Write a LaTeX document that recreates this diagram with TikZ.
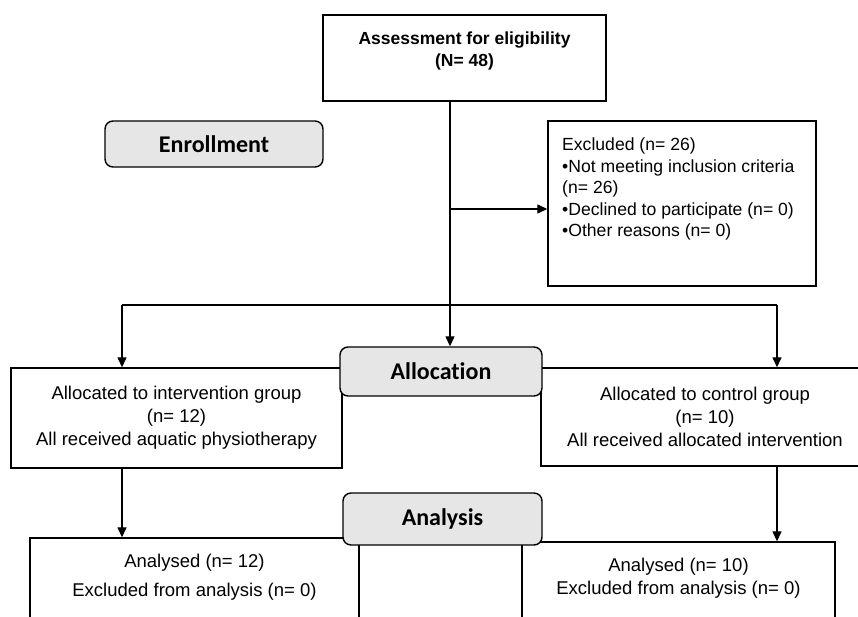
\documentclass[tikz,border=0pt]{standalone}
\usepackage{fontspec}
\setmainfont{Liberation Sans}
\newfontfamily\stagefont[Ligatures=NoCommon]{Carlito}
\usetikzlibrary{arrows.meta}
\definecolor{stageGray}{RGB}{230,230,230}

\begin{document}
\begin{tikzpicture}[x=1pt,y=-1pt,
    groupbox/.style={draw,line width=1.4pt,rectangle,inner sep=0pt},
    stagebox/.style={draw,line width=1.4pt,fill=stageGray,rectangle,rounded corners=8pt,inner sep=0pt,font=\stagefont\bfseries\fontsize{24}{28}\selectfont},
    bodytext/.style={align=center,font=\fontsize{18.5}{23}\selectfont},
    flow/.style={line width=1.3pt,-{Triangle[length=10pt,width=9pt]}}]
    \clip (0,0) rectangle (858,616);

    % Assessment (top)
    \node[groupbox,minimum width=283,minimum height=86] (assess) at (464.5,58) {};
    \node[align=center,font=\bfseries\fontsize{17.5}{22}\selectfont] (assesstxt) at (464.5,51) {Assessment for eligibility\\(N= 48)};

    % Enrollment stage and exclusions
    \node[stagebox,minimum width=218,minimum height=46] (enroll) at (214,144) {Enrollment};
    \node[groupbox,minimum width=268,minimum height=165] (excl) at (682,203.5) {};
    \node[align=left,anchor=west,inner sep=0pt,font=\fontsize{17.6}{21.5}\selectfont] (excltxt) at (562,189) {Excluded (n= 26)\\•Not meeting inclusion criteria\\(n= 26)\\•Declined to participate (n= 0)\\•Other reasons (n= 0)};

    % Allocated groups
    \node[groupbox,bodytext,minimum width=331,minimum height=100] (intv) at (176.5,418) {Allocated to intervention group\\(n= 12)\\All received aquatic physiotherapy};
    \node[groupbox,bodytext,minimum width=328,minimum height=98] (ctrl) at (705,417) {Allocated to control group\\(n= 10)\\All received allocated intervention};

    % Analysed groups
    \node[groupbox,minimum width=329,minimum height=142] (anaI) at (194.5,609) {};
    \node[bodytext,font=\fontsize{18.5}{29}\selectfont] (anaItxt) at (194.5,577.5) {Analysed (n= 12)\\Excluded from analysis (n= 0)};
    \node[groupbox,minimum width=313,minimum height=142] (anaC) at (678.5,613) {};
    \node[bodytext] (anaCtxt) at (678.5,578.5) {Analysed (n= 10)\\Excluded from analysis (n= 0)};

    % Stage labels on top
    \node[stagebox,minimum width=202,minimum height=49] (alloc) at (441,371.5) {Allocation};
    \node[stagebox,minimum width=199,minimum height=52] (analysis) at (442.5,519) {Analysis};

    % Connectors
    \coordinate (split) at (450,305);
    \coordinate (branch) at (450,209);
    \coordinate (leftdrop) at (122,305);
    \coordinate (rightdrop) at (777,305);
    \draw[flow] (split |- assess.south) -- (split |- alloc.north);
    \draw[flow] (branch) -- (branch -| excl.west);
    \draw[line width=1.3pt] (leftdrop) -- (rightdrop);
    \draw[flow] (leftdrop) -- (leftdrop |- intv.north);
    \draw[flow] (rightdrop) -- (rightdrop |- ctrl.north);
    \draw[flow] (leftdrop |- intv.south) -- (leftdrop |- anaI.north);
    \draw[flow] (rightdrop |- ctrl.south) -- (rightdrop |- anaC.north);
\end{tikzpicture}
\end{document}
